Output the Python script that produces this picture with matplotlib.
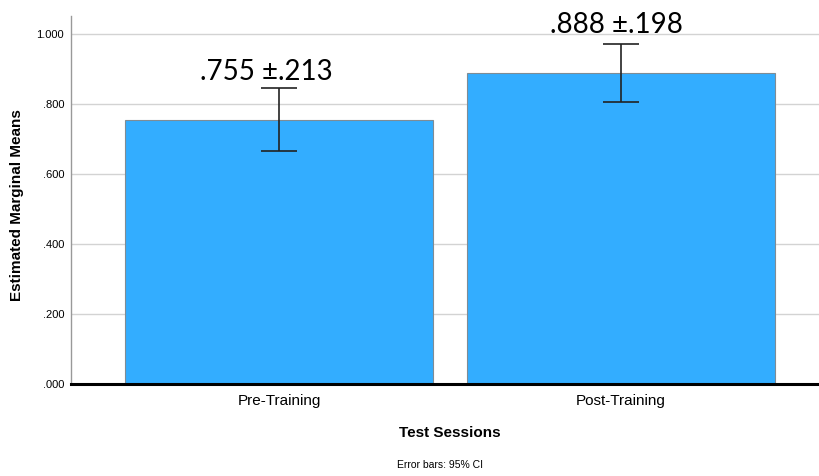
import matplotlib
matplotlib.use("Agg")
import matplotlib.pyplot as plt
import numpy as np

categories = ["Pre-Training", "Post-Training"]
means = [0.755, 0.888]
ci_low = [0.666, 0.805]
ci_high = [0.845, 0.972]
labels = [".755 \u00b1.213", ".888 \u00b1.198"]
yticks = [0.0, 0.2, 0.4, 0.6, 0.8, 1.0]
ytick_labels = [".000", ".200", ".400", ".600", ".800", "1.000"]

fig = plt.figure(figsize=(8.2, 4.76), dpi=100)
ax = fig.add_axes([71/820, 1-384/476, (820-71)/820, (384-16)/476])

x = np.arange(len(categories))
m = np.array(means)
err = np.array([m - np.array(ci_low), np.array(ci_high) - m])
ax.bar(x, m, width=0.9, color="#33ADFF", edgecolor="#7f8c95", linewidth=0.8, zorder=2)
ax.errorbar(x, m, yerr=err, fmt="none", ecolor="#222222", elinewidth=1.2,
            capsize=13.3, capthick=1.2, zorder=3)

ax.set_xlim(-0.608, 1.582)
ax.set_ylim(0, 1.051)
ax.set_yticks(yticks)
ax.set_yticklabels(ytick_labels, fontsize=8, family="Liberation Sans")
ax.set_xticks(x)
ax.set_xticklabels(categories, fontsize=11, family="Liberation Sans")
ax.tick_params(axis="y", length=0, pad=5)
ax.tick_params(axis="x", length=0, pad=7)
ax.yaxis.grid(True, color="#d3d3d3", linewidth=1, zorder=0)
ax.set_axisbelow(True)
for s in ["top", "right"]:
    ax.spines[s].set_visible(False)
ax.spines["left"].set_color("#999999")
ax.spines["left"].set_linewidth(1)
ax.spines["bottom"].set_color("black")
ax.spines["bottom"].set_linewidth(2.2)
ax.spines["bottom"].set_zorder(4)

fig.text(17/820, 1-205/476, "Estimated Marginal Means", fontsize=11, fontweight="bold",
         family="Liberation Sans", rotation=90, ha="center", va="center")
fig.text(450/820, 1-433/476, "Test Sessions", fontsize=11, fontweight="bold",
         family="Liberation Sans", ha="center", va="center")

label_x = [266, 616]
label_y = [72, 25]
for lx, ly, t in zip(label_x, label_y, labels):
    fig.text(lx/820, 1-ly/476, t, fontsize=20, family="Lato",
             ha="center", va="center")

fig.text(440/820, 1-465/476, "Error bars: 95% CI", fontsize=7.5, family="Liberation Sans",
         ha="center", va="center")

fig.savefig("out.png", dpi=100)
